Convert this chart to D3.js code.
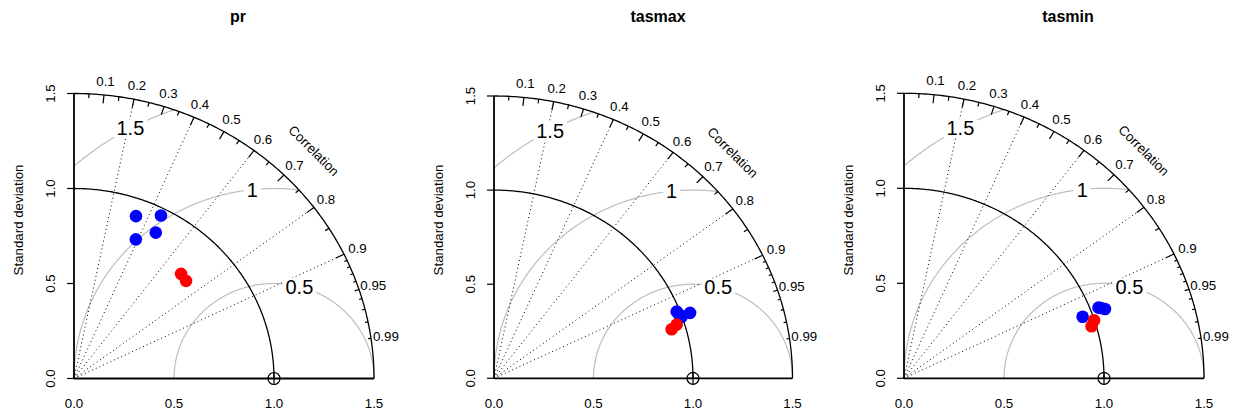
<!DOCTYPE html>
<html>
<head>
<meta charset="utf-8">
<script src="https://cdn.jsdelivr.net/npm/d3@7"></script>
<style>
  body { margin: 0; background: #fff; }
  text { font-family: "Liberation Sans", Arial, sans-serif; fill: #000; }
</style>
</head>
<body>
<div id="chart"></div>
<script>
var width = 1240, height = 414;

// data
const panelTitles = ["pr", "tasmax", "tasmin"];
const sdTicks = [0, 0.5, 1, 1.5];
const corrLabels = [0.1, 0.2, 0.3, 0.4, 0.5, 0.6, 0.7, 0.8, 0.9, 0.95, 0.99];
const bigTicks = [0.1, 0.2, 0.3, 0.4, 0.5, 0.6, 0.7, 0.8, 0.9];
const medTicks = [0.05, 0.15, 0.25, 0.35, 0.45, 0.55, 0.65, 0.75, 0.85, 0.95];
const smlTicks = [0.91, 0.92, 0.93, 0.94, 0.96, 0.97, 0.98, 0.99];
const gradCorrLines = [0.2, 0.4, 0.6, 0.8, 0.9];
const gammaLevels = [0.5, 1, 1.5];
const gammaLabels = ["0.5", "1", "1.5"];
const refSd = 1, maxSd = 1.5;

// model results (standard deviation, correlation), per panel
const blueSd = [[0.909, 0.962, 0.795, 0.870], [0.984, 1.045, 0.998, 0.990], [0.950, 1.041, 1.069, 1.052]];
const blueCor = [[0.341, 0.452, 0.389, 0.470], [0.933, 0.943, 0.945, 0.939], [0.940, 0.934, 0.940, 0.936]];
const redSd = [[0.768, 0.760], [0.930, 0.961], [0.977, 0.998]];
const redCor = [[0.697, 0.737], [0.960, 0.955], [0.960, 0.952]];

// layout of each panel: origin and px per unit
const panels = [
    { x0: 74, y0: 378.5, sx: 200, sy: 190 },
    { x0: 494, y0: 378.3, sx: 199, sy: 188.2 },
    { x0: 904, y0: 378.3, sx: 200, sy: 190 }
];
const gammaLabelAngle = [75.3, 96.2, 118.6];   // degrees, around the ref point
const fs = '13.3px';

const svg = d3.select('#chart').append('svg')
    .attr('width', width)
    .attr('height', height);

panels.forEach((p, i) => drawPanel(i));

function drawPanel(i) {
    const p = panels[i];
    const x = d3.scaleLinear().domain([0, maxSd]).range([p.x0, p.x0 + maxSd * p.sx]);
    const y = d3.scaleLinear().domain([0, maxSd]).range([p.y0, p.y0 - maxSd * p.sy]);
    const line = d3.line().x(d => x(d[0])).y(d => y(d[1]));
    const g = svg.append('g');

    const polar = (r, c) => [r * c, r * Math.sqrt(1 - c * c)];
    const arcPts = r => d3.range(0, 181).map(k => {
        let t = Math.PI / 2 * k / 180;
        return [r * Math.cos(t), r * Math.sin(t)];
    });

    // title
    g.append('text')
        .attr('x', p.x0 + 164)
        .attr('y', 22)
        .attr('text-anchor', 'middle')
        .style('font-size', '16px')
        .style('font-weight', 'bold')
        .text(panelTitles[i]);

    // centred RMS circles
    gammaLevels.forEach(gm => {
        let pts = d3.range(0, 721).map(k => {
            let t = Math.PI * k / 720;
            return [refSd + gm * Math.cos(t), gm * Math.sin(t)];
        }).filter(d => d[0] >= -1e-9 && Math.hypot(d[0], d[1]) <= maxSd + 1e-6);
        g.append('path')
            .attr('d', line(pts))
            .attr('fill', 'none')
            .attr('stroke', '#bebebe')
            .attr('stroke-width', 1.2);
    });

    // correlation lines
    gradCorrLines.forEach(c => {
        g.append('path')
            .attr('d', line([[0, 0], polar(maxSd, c)]))
            .attr('stroke', '#000')
            .attr('stroke-width', 1)
            .attr('stroke-dasharray', '1,3');
    });

    // gamma labels with white box
    gammaLevels.forEach((gm, j) => {
        let a = gammaLabelAngle[j] * Math.PI / 180;
        let lx = x(refSd + gm * Math.cos(a)), ly = y(gm * Math.sin(a));
        let t = g.append('text')
            .attr('x', lx)
            .attr('y', ly)
            .attr('dy', '0.36em')
            .attr('text-anchor', 'middle')
            .style('font-size', '20px')
            .text(gammaLabels[j]);
        let bb = t.node().getBBox();
        g.insert('rect', function () { return t.node(); })
            .attr('x', bb.x - 3)
            .attr('y', bb.y + 2)
            .attr('width', bb.width + 6)
            .attr('height', bb.height - 4)
            .attr('fill', '#fff');
    });

    // reference sd arc and outer arc
    g.append('path')
        .attr('d', line(arcPts(refSd)))
        .attr('fill', 'none')
        .attr('stroke', '#000')
        .attr('stroke-width', 1.3);
    g.append('path')
        .attr('d', line(arcPts(maxSd)))
        .attr('fill', 'none')
        .attr('stroke', '#000')
        .attr('stroke-width', 1.3);

    // ticks on outer arc
    const tickSets = [[bigTicks, 0.97], [medTicks, 0.985], [smlTicks, 0.99]];
    tickSets.forEach(ts => {
        g.selectAll(null)
            .data(ts[0])
            .enter().append('path')
            .attr('d', c => line([polar(maxSd, c), polar(maxSd * ts[1], c)]))
            .attr('stroke', '#000')
            .attr('stroke-width', 1.2);
    });

    // correlation labels
    g.selectAll(null)
        .data(corrLabels)
        .enter().append('text')
        .attr('x', c => x(polar(maxSd * 1.05, c)[0]))
        .attr('y', c => y(polar(maxSd * 1.05, c)[1]))
        .attr('dy', '0.36em')
        .attr('text-anchor', 'middle')
        .style('font-size', fs)
        .text(c => c);

    g.append('text')
        .attr('transform', 'translate(' + x(0.8 * maxSd) + ',' + y(0.8 * maxSd) + ') rotate(45)')
        .attr('dy', '0.36em')
        .attr('text-anchor', 'middle')
        .style('font-size', fs)
        .text('Correlation');

    // axes
    g.append('line')
        .attr('x1', x(0)).attr('x2', x(maxSd))
        .attr('y1', y(0)).attr('y2', y(0))
        .attr('stroke', '#000')
        .attr('stroke-width', 1.8);
    g.append('line')
        .attr('x1', x(0)).attr('x2', x(0))
        .attr('y1', y(0)).attr('y2', y(maxSd))
        .attr('stroke', '#000')
        .attr('stroke-width', 1.8);

    g.selectAll(null)
        .data(sdTicks)
        .enter().append('line')
        .attr('x1', x(0) - 7).attr('x2', x(0))
        .attr('y1', d => y(d)).attr('y2', d => y(d))
        .attr('stroke', '#000')
        .attr('stroke-width', 1.2);

    g.selectAll(null)
        .data(sdTicks)
        .enter().append('text')
        .attr('transform', d => 'translate(' + (x(0) - 24) + ',' + y(d) + ') rotate(-90)')
        .attr('dy', '0.36em')
        .attr('text-anchor', 'middle')
        .style('font-size', fs)
        .text(d => d.toFixed(1));

    g.selectAll(null)
        .data(sdTicks)
        .enter().append('text')
        .attr('x', d => x(d))
        .attr('y', y(0) + 25)
        .attr('dy', '0.36em')
        .attr('text-anchor', 'middle')
        .style('font-size', fs)
        .text(d => d.toFixed(1));

    g.append('text')
        .attr('transform', 'translate(' + (x(0) - 55.5) + ',220) rotate(-90)')
        .attr('dy', '0.36em')
        .attr('text-anchor', 'middle')
        .style('font-size', fs)
        .text('Standard deviation');

    // model points
    blueSd[i].forEach((s, k) => {
        let pt = polar(s, blueCor[i][k]);
        g.append('circle')
            .attr('cx', x(pt[0]))
            .attr('cy', y(pt[1]))
            .attr('r', 6.3)
            .attr('fill', '#0000ff');
    });
    redSd[i].forEach((s, k) => {
        let pt = polar(s, redCor[i][k]);
        g.append('circle')
            .attr('cx', x(pt[0]))
            .attr('cy', y(pt[1]))
            .attr('r', 6.3)
            .attr('fill', '#ff0000');
    });

    // reference point
    let rx = x(refSd), ry = y(0);
    g.append('circle')
        .attr('cx', rx).attr('cy', ry).attr('r', 6)
        .attr('fill', 'none')
        .attr('stroke', '#000')
        .attr('stroke-width', 1.2);
    g.append('path')
        .attr('d', 'M' + (rx - 6) + ',' + ry + 'H' + (rx + 6) + 'M' + rx + ',' + (ry - 6) + 'V' + (ry + 6))
        .attr('stroke', '#000')
        .attr('stroke-width', 1.2);
}
</script>
</body>
</html>
